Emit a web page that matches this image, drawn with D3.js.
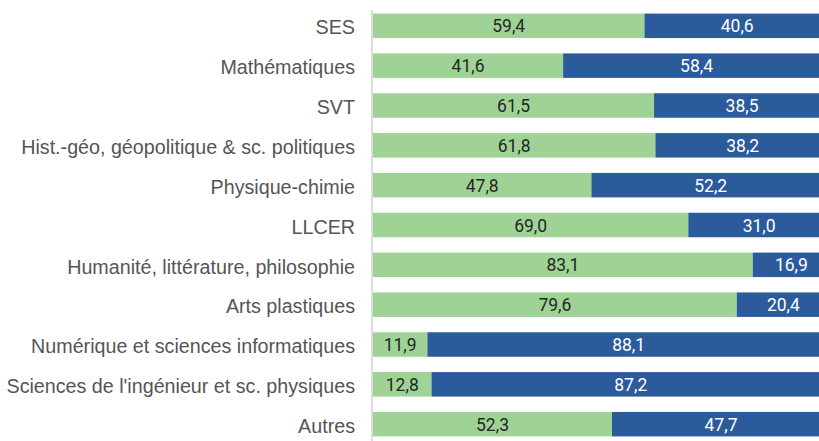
<!DOCTYPE html>
<html>
<head>
<meta charset="utf-8">
<script src="https://cdn.jsdelivr.net/npm/d3@7"></script>
<style>
body{margin:0;background:#fff;overflow:hidden;}
</style>
</head>
<body>
<div id="ChartPart"></div>
<script>
// data
var Categories = ["SES","Mathématiques","SVT","Hist.-géo, géopolitique & sc. politiques","Physique-chimie","LLCER","Humanité, littérature, philosophie","Arts plastiques","Numérique et sciences informatiques","Sciences de l'ingénieur et sc. physiques","Autres"];
var GreenValues = [59.4,41.6,61.5,61.8,47.8,69.0,83.1,79.6,11.9,12.8,52.3];
var BlueValues = [40.6,58.4,38.5,38.2,52.2,31.0,16.9,20.4,88.1,87.2,47.7];

var Width = 819, Height = 441;
var GreenColor = "#9fd395", BlueColor = "#2b5b9b";

var Svg = d3.select("#ChartPart")
	.append("svg")
	.attr("width",Width)
	.attr("height",Height);

var XScale = d3.scaleLinear().domain([0,100]).range([373,830]);
var YScale = d3.scaleBand().domain(Categories).range([6,444]).paddingInner(0.385).paddingOuter(0.19);

var Rows = Categories.map(function(c,i){
	return {name:c, green:GreenValues[i], blue:BlueValues[i]};
});

//green part
Svg.selectAll(".GreenBar")
	.data(Rows)
	.enter()
	.append("rect")
	.attr("class","GreenBar")
	.attr("x",XScale(0))
	.attr("y",function(d){return YScale(d.name);})
	.attr("width",function(d){return XScale(d.green)-XScale(0);})
	.attr("height",YScale.bandwidth())
	.attr("fill",GreenColor);

//blue part
Svg.selectAll(".BlueBar")
	.data(Rows)
	.enter()
	.append("rect")
	.attr("class","BlueBar")
	.attr("x",function(d){return XScale(d.green);})
	.attr("y",function(d){return YScale(d.name);})
	.attr("width",function(d){return XScale(d.green+d.blue)-XScale(d.green);})
	.attr("height",YScale.bandwidth())
	.attr("fill",BlueColor);

function Fmt(v){return v.toFixed(1).replace(".",",");}

Svg.selectAll(".GreenLabel")
	.data(Rows)
	.enter()
	.append("text")
	.attr("x",function(d){return (XScale(0)+XScale(d.green))/2;})
	.attr("y",function(d){return YScale(d.name)+YScale.bandwidth()/2;})
	.attr("dy","0.38em")
	.attr("text-anchor","middle")
	.style("font-family","Roboto, sans-serif")
	.style("font-size","17.5px")
	.attr("fill","#262626")
	.text(function(d){return Fmt(d.green);});

Svg.selectAll(".BlueLabel")
	.data(Rows)
	.enter()
	.append("text")
	.attr("x",function(d){return (XScale(d.green)+XScale(d.green+d.blue))/2;})
	.attr("y",function(d){return YScale(d.name)+YScale.bandwidth()/2;})
	.attr("dy","0.38em")
	.attr("text-anchor","middle")
	.style("font-family","Roboto, sans-serif")
	.style("font-size","17.5px")
	.attr("fill","#ffffff")
	.text(function(d){return Fmt(d.blue);});

//category axis
var YAxis = Svg.append("g")
	.attr("transform","translate(372,0)")
	.call(d3.axisLeft(YScale).tickSize(0).tickPadding(17));
YAxis.select(".domain").attr("stroke","#d0d0d0").attr("stroke-width",1.5).attr("d","M0,10V441");
YAxis.selectAll("text")
	.attr("dy","0.44em")
	.style("font-family","'Liberation Sans', Arial, sans-serif")
	.style("font-size","19.7px")
	.attr("fill","#555555");
</script>
</body>
</html>
